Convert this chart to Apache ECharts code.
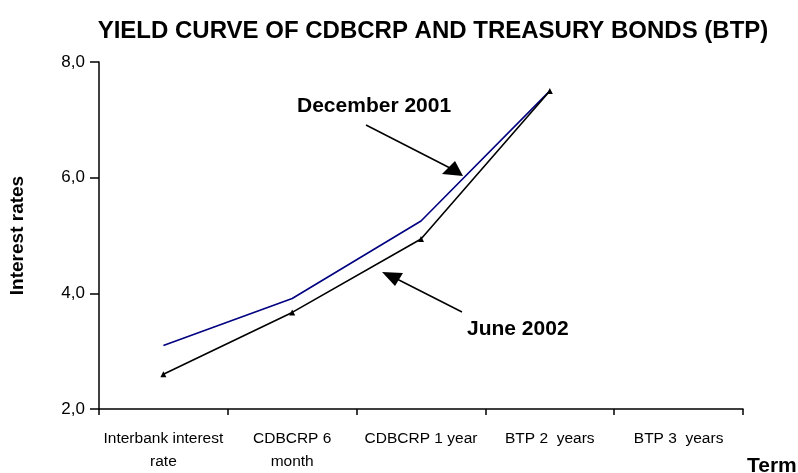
<!DOCTYPE html>
<html>
<head>
<meta charset="utf-8">
<script src="https://cdn.jsdelivr.net/npm/echarts@6/dist/echarts.min.js"></script>
<style>
  html, body { margin: 0; padding: 0; background: #fff; }
  #chart { width: 798px; height: 473px; }
</style>
</head>
<body>
<div id="chart"></div>
<script>
// Terms on the horizontal axis
var terms = ['Interbank interest\nrate', 'CDBCRP 6\nmonth', 'CDBCRP 1 year', 'BTP 2  years', 'BTP 3  years'];
// Yields (%) per term
var dec2001 = [3.10, 3.91, 5.25, 7.50, null];
var jun2002 = [2.60, 3.67, 4.94, 7.50, null];
// Vertical axis ticks
var yTicks = [2, 4, 6, 8];

var FONT = 'Liberation Sans, Arial, sans-serif';
var chart = echarts.init(document.getElementById('chart'), null, { renderer: 'canvas' });

chart.setOption({
  backgroundColor: '#ffffff',
  animation: false,
  title: [
    { text: 'YIELD CURVE OF CDBCRP AND TREASURY BONDS (BTP)', left: 428, top: 14, textAlign: 'center',
      textStyle: { fontFamily: FONT, fontSize: 24, fontWeight: 'bold', color: '#000' } },
    { text: 'Term', left: 742, top: 451,
      textStyle: { fontFamily: FONT, fontSize: 21, fontWeight: 'bold', color: '#000' } }
  ],
  grid: { left: 99, right: 55, top: 62, bottom: 62, containLabel: false },
  xAxis: {
    type: 'category',
    data: terms,
    boundaryGap: true,
    axisLine: { lineStyle: { color: '#000', width: 1.5 } },
    axisTick: { show: true, alignWithLabel: false, length: 6, lineStyle: { color: '#000', width: 1.5 } },
    axisLabel: { interval: 0, color: '#000', fontFamily: FONT, fontSize: 15.5, margin: 18, lineHeight: 23 },
    splitLine: { show: false }
  },
  yAxis: {
    type: 'value',
    min: yTicks[0], max: yTicks[yTicks.length - 1], interval: 2,
    name: 'Interest rates',
    nameLocation: 'middle',
    nameGap: 72,
    nameRotate: 90,
    nameTextStyle: { fontFamily: FONT, fontSize: 19, fontWeight: 'bold', color: '#000' },
    axisLine: { show: true, lineStyle: { color: '#000', width: 1.5 } },
    axisTick: { show: true, length: 9, lineStyle: { color: '#000', width: 1.5 } },
    axisLabel: { color: '#000', fontFamily: FONT, fontSize: 17, margin: 14,
      formatter: function (v) { return v.toFixed(1).replace('.', ','); } },
    splitLine: { show: false }
  },
  series: [
    {
      name: 'December 2001', type: 'line', data: dec2001,
      symbol: 'none',
      lineStyle: { color: '#000080', width: 1.6 },
      itemStyle: { color: '#000080' }
    },
    {
      name: 'June 2002', type: 'line', data: jun2002,
      symbol: 'triangle', symbolSize: 6,
      lineStyle: { color: '#000', width: 1.6 },
      itemStyle: { color: '#000' }
    }
  ],
  graphic: [
    { type: 'text', left: 297, top: 96,
      style: { text: 'December 2001', font: 'bold 21px ' + FONT, fill: '#000' } },
    { type: 'line', shape: { x1: 366, y1: 125, x2: 450, y2: 168 }, style: { stroke: '#000', lineWidth: 1.5 } },
    { type: 'polygon', shape: { points: [[463, 176], [442, 174], [455, 161]] }, style: { fill: '#000' } },
    { type: 'text', left: 467, top: 319,
      style: { text: 'June 2002', font: 'bold 21px ' + FONT, fill: '#000' } },
    { type: 'line', shape: { x1: 462, y1: 312, x2: 395, y2: 278 }, style: { stroke: '#000', lineWidth: 1.5 } },
    { type: 'polygon', shape: { points: [[382, 272], [395, 286], [403, 273]] }, style: { fill: '#000' } }
  ]
});
</script>
</body>
</html>
